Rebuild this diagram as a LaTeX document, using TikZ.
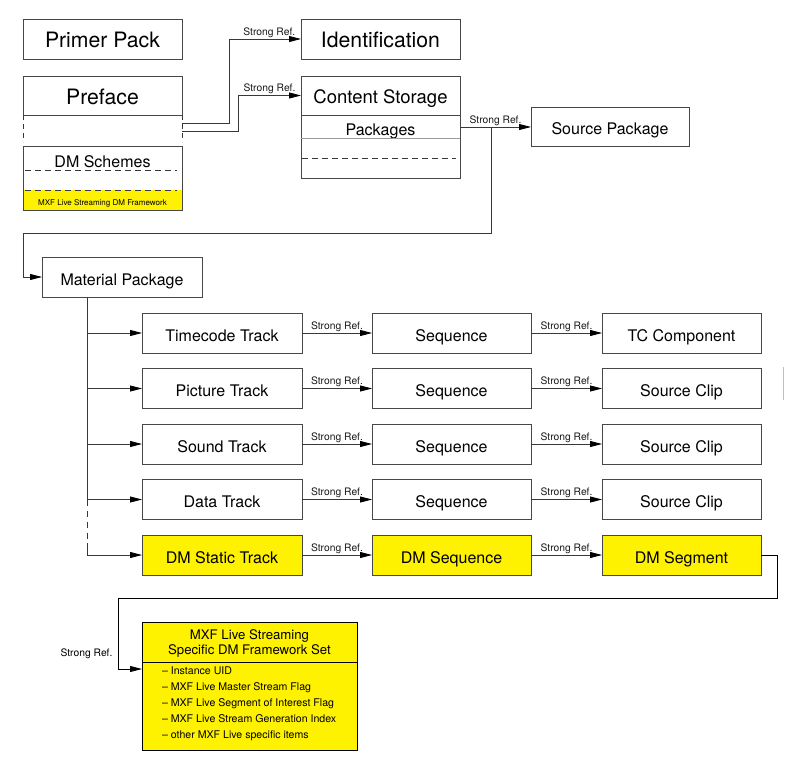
\documentclass[tikz,border=0pt]{standalone}
\usepackage{fontspec}
\setmainfont{TeX Gyre Heros}
\usetikzlibrary{arrows.meta}
\newcommand\dgBig{\fontsize{21.2}{24}\selectfont}
\newcommand\dgCS{\fontsize{18.5}{22}\selectfont}
\newcommand\dgNorm{\fontsize{16}{18}\selectfont}
\newcommand\dgLbl{\fontsize{10.3}{12}\selectfont}
\newcommand\dgTiny{\fontsize{8}{9}\selectfont}
\newcommand\dgTitle{\fontsize{13.2}{16}\selectfont}
\newcommand\dgItem{\fontsize{10.6}{16}\selectfont}
\begin{document}
\begin{tikzpicture}[x=1pt,y=-1pt,
  line/.style={draw=black!78, line width=0.8pt},
  arr/.style={line, -{Triangle[length=12pt,width=6pt,color=black]}},
  box/.style={draw=black!72, line width=0.8pt, inner sep=0pt, outer sep=0pt,
    minimum width=159pt, minimum height=40pt, font=\dgNorm,
    text height=16.5pt, text depth=0pt},
  bigbox/.style={box, font=\dgBig, text height=17.9pt, text depth=0pt},
  csbox/.style={box, font=\dgCS, text height=16.2pt, text depth=0pt},
  ybox/.style={box, fill=yellow},
  plain/.style={inner sep=0pt, outer sep=0pt},
  lbl/.style={font=\dgLbl, inner sep=1pt, above, text=black!90},
  dsh/.style={line, dash pattern=on 6pt off 4pt},
]
\useasboundingbox (0,0) rectangle (793,766);

% ---------- top left ----------
\node[bigbox] (primer) at (102.5,39) {Primer Pack};
\node[bigbox, minimum height=39pt] (preface) at (102.5,95.5) {Preface};
\node[plain, minimum width=159pt, minimum height=27pt] (prefbody) at (102.5,128.5) {};
\draw[dsh, dash pattern=on 5pt off 4pt] (prefbody.north west) -- (prefbody.south west);
\draw[dsh, dash pattern=on 5pt off 4pt] (prefbody.north east) -- (prefbody.south east);

\node[plain, fill=yellow, minimum width=159pt, minimum height=20pt] (dmsy) at (102.5,200) {};
\node[box, minimum height=64pt] (dms) at (102.5,178) {};
\node[plain, font=\dgNorm, text height=11.5pt, text depth=0pt] (dmstext) at (102.5,161.5) {DM Schemes};
\draw[dsh] ([xshift=2pt,yshift=8pt]dms.west) -- ([xshift=-5pt,yshift=8pt]dms.east);
\draw[dsh] ([xshift=2pt,yshift=-12pt]dms.west) -- ([xshift=-5pt,yshift=-12pt]dms.east);
\node[plain, font=\dgTiny, text height=5.8pt, text depth=0pt] (dmstiny) at (102.5,203) {MXF Live Streaming DM Framework};

% ---------- top middle ----------
\node[bigbox] (ident) at (380.5,39) {Identification};
\node[csbox, minimum height=39pt] (csh) at (380.5,95.5) {Content Storage};
\node[box, minimum height=63pt] (csb) at (380.5,146.5) {};
\node[plain, font=\dgNorm, text height=11.5pt, text depth=0pt] (pkgs) at (380.5,129.5) {Packages};
\draw[draw=black!40, line width=0.6pt] ([yshift=8.5pt]csb.west) -- ([yshift=8.5pt]csb.east);
\draw[dsh] ([xshift=1pt,yshift=-11.5pt]csb.west) -- ([xshift=-4pt,yshift=-11.5pt]csb.east);

\node[box, minimum width=158pt, minimum height=39pt] (srcpkg) at (610,126.5) {Source Package};

% Preface connectors
\draw[arr] ([yshift=5.5pt]prefbody.east) -- (229,123) |- node[lbl, pos=0.78]{Strong Ref.} (ident);
\draw[arr] ([yshift=-2.5pt]prefbody.east) -- (238,131) |- node[lbl, pos=0.75]{Strong Ref.} (csh);

% Content storage to packages
\draw[arr] ([yshift=19.5pt]csb.east) -- node[lbl]{Strong Ref.} ([yshift=19.5pt]csb.east -| srcpkg.west);
\coordinate (br) at (491,127);

% ---------- material package ----------
\node[box, minimum width=160pt] (matpkg) at (122,277) {Material Package};
\draw[arr] (br) |- (23,233) |- (matpkg);

% tracks
\node[box, minimum width=160pt] (tc)   at (222,333)   {Timecode Track};
\node[box, minimum width=160pt] (pic)  at (222,388.5) {Picture Track};
\node[box, minimum width=160pt] (snd)  at (222,444)   {Sound Track};
\node[box, minimum width=160pt] (dat)  at (222,499.5) {Data Track};
\node[ybox, minimum width=160pt] (dmst) at (222,555)  {DM Static Track};

\node[box] (seq1) at (451.5,333)   {Sequence};
\node[box] (seq2) at (451.5,388.5) {Sequence};
\node[box] (seq3) at (451.5,444)   {Sequence};
\node[box] (seq4) at (451.5,499.5) {Sequence};
\node[ybox] (dmseq) at (451.5,555) {DM Sequence};

\node[box] (tccomp) at (681.5,333)   {TC Component};
\node[box] (sc2)    at (681.5,388.5) {Source Clip};
\node[box] (sc3)    at (681.5,444)   {Source Clip};
\node[box] (sc4)    at (681.5,499.5) {Source Clip};
\node[ybox] (dmseg) at (681.5,555)   {DM Segment};

% trunk
\coordinate (trk) at (87,297);
\draw[line] (trk) -- (trk |- dat);
\draw[line, dash pattern=on 6pt off 5pt] (trk |- dat) -- ([yshift=12pt]trk |- dmst);
\draw[line] ([yshift=12pt]trk |- dmst) -- (trk |- dmst);
\draw[arr] (trk |- tc) -- (tc);
\draw[arr] (trk |- pic) -- (pic);
\draw[arr] (trk |- snd) -- (snd);
\draw[arr] (trk |- dat) -- (dat);
\draw[arr] (trk |- dmst) -- (dmst);

% row connectors
\draw[arr] (tc) -- node[lbl]{Strong Ref.} (seq1);
\draw[arr] (pic) -- node[lbl]{Strong Ref.} (seq2);
\draw[arr] (snd) -- node[lbl]{Strong Ref.} (seq3);
\draw[arr] (dat) -- node[lbl]{Strong Ref.} (seq4);
\draw[arr] (dmst) -- node[lbl]{Strong Ref.} (dmseq);
\draw[arr] (seq1) -- node[lbl]{Strong Ref.} (tccomp);
\draw[arr] (seq2) -- node[lbl]{Strong Ref.} (sc2);
\draw[arr] (seq3) -- node[lbl]{Strong Ref.} (sc3);
\draw[arr] (seq4) -- node[lbl]{Strong Ref.} (sc4);
\draw[arr] (dmseq) -- node[lbl]{Strong Ref.} (dmseg);

% stray mark
\draw[draw=black!25, line width=0.8pt] (783,367) -- (783,400);

% ---------- MXF framework set ----------
\node[box, draw=black, line width=1pt, fill=yellow, minimum width=215pt, minimum height=88pt] (mxfb) at (249.5,706) {};
\node[box, draw=black, line width=1pt, fill=yellow, minimum width=215pt, minimum height=40pt] (mxfh) at (249.5,642) {};
\node[plain, font=\dgTitle, align=center] (mxft) at (249.5,643.5)
      {MXF Live Streaming\\Specific DM Framework Set};
\node[plain, font=\dgItem, align=left, anchor=west] (items) at (162,703.5)
  {– Instance UID\\– MXF Live Master Stream Flag\\– MXF Live Segment of Interest Flag\\– MXF Live Stream Generation Index\\– other MXF Live specific items};

\draw[arr, draw=black] (dmseg) -- (777,555) |- (118,598) |- ([yshift=37pt]mxfb.west);
\node[plain, font=\dgLbl] (lblmxf) at (86.5,654) {Strong Ref.};
\end{tikzpicture}
\end{document}
